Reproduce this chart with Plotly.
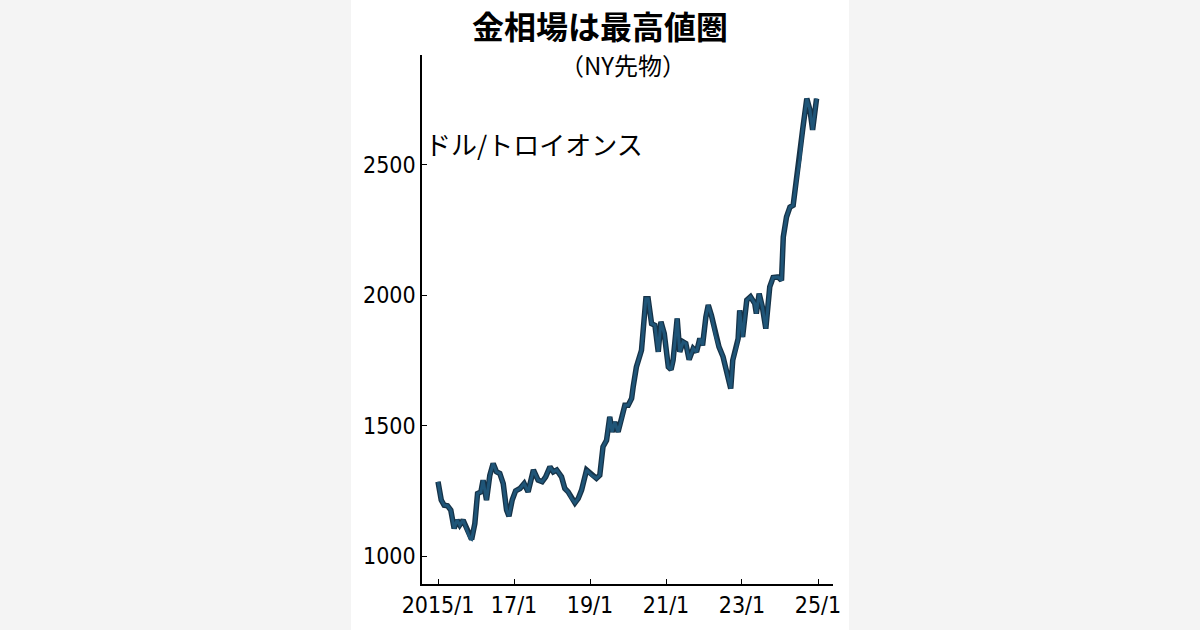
import plotly.graph_objects as go

# gold futures (NY), dollars per troy ounce
dates = [
    "2015-01-01", "2015-02-01", "2015-03-01", "2015-04-02", "2015-05-04",
    "2015-06-05", "2015-07-03", "2015-07-29", "2015-08-30", "2015-09-23",
    "2015-11-04", "2015-11-20", "2015-12-21", "2016-01-16", "2016-02-17",
    "2016-03-09", "2016-04-11", "2016-05-13", "2016-06-14", "2016-07-16",
    "2016-08-17", "2016-09-19", "2016-10-21", "2016-11-13", "2016-12-14",
    "2017-01-16", "2017-02-27", "2017-04-08", "2017-05-16", "2017-07-06",
    "2017-08-20", "2017-09-28", "2017-11-01", "2017-12-12", "2018-01-13",
    "2018-02-15", "2018-04-02", "2018-05-04", "2018-06-05", "2018-07-07",
    "2018-08-09", "2018-09-10", "2018-10-12", "2018-11-29", "2019-01-16",
    "2019-03-04", "2019-04-05", "2019-05-06", "2019-06-09", "2019-07-10",
    "2019-08-01", "2019-08-27", "2019-09-28", "2019-11-06", "2019-12-02",
    "2020-01-03", "2020-02-05", "2020-02-20", "2020-03-22", "2020-05-10",
    "2020-06-21", "2020-07-13", "2020-08-15", "2020-09-16", "2020-10-18",
    "2020-11-13", "2020-12-15", "2021-01-23", "2021-02-18", "2021-03-10",
    "2021-04-18", "2021-05-13", "2021-06-14", "2021-07-10", "2021-08-11",
    "2021-09-19", "2021-10-21", "2021-11-22", "2021-12-18", "2022-01-19",
    "2022-02-11", "2022-03-13", "2022-04-24", "2022-05-25", "2022-07-03",
    "2022-08-11", "2022-09-15", "2022-10-04", "2022-11-10", "2022-11-25",
    "2022-12-10", "2023-01-07", "2023-02-16", "2023-03-24", "2023-05-04",
    "2023-05-19", "2023-06-15", "2023-07-16", "2023-08-18", "2023-09-25",
    "2023-10-27", "2023-12-15", "2024-01-16", "2024-02-02", "2024-03-04",
    "2024-04-06", "2024-05-07", "2024-06-09", "2024-07-10", "2024-08-06",
    "2024-09-15", "2024-10-16", "2024-11-10", "2024-12-18",
]
prices = [
    1285, 1215, 1195, 1193, 1176,
    1106, 1138, 1119, 1138, 1115,
    1068, 1064, 1125, 1240, 1246,
    1291, 1215, 1310, 1355, 1323,
    1317, 1278, 1176, 1153, 1215,
    1250, 1259, 1278, 1246, 1330,
    1291, 1285, 1304, 1342, 1323,
    1330, 1304, 1259, 1246, 1221,
    1204, 1221, 1253, 1330, 1310,
    1298, 1310, 1419, 1444, 1534,
    1476, 1514, 1476, 1534, 1578,
    1578, 1604, 1649, 1725, 1789,
    1987, 1987, 1891, 1885, 1783,
    1898, 1853, 1725, 1715, 1751,
    1911, 1783, 1821, 1815, 1753,
    1796, 1783, 1834, 1808, 1917,
    1962, 1923, 1840, 1802, 1764,
    1700, 1642, 1750, 1802, 1834,
    1942, 1840, 1981, 1994, 1968,
    1930, 2006, 1955, 1872, 2032,
    2068, 2070, 2057, 2223, 2300,
    2338, 2345, 2441, 2519, 2634,
    2754, 2709, 2634, 2754,
]

x_tickvals = ["2015-01-01", "2017-01-01", "2019-01-01", "2021-01-01", "2023-01-01", "2025-01-01"]
x_ticktext = ["2015/1", "17/1", "19/1", "21/1", "23/1", "25/1"]
y_tickvals = [1000, 1500, 2000, 2500]

jp = "Noto Sans CJK JP"
narrow = "DejaVu Sans Condensed, Liberation Sans Narrow, sans-serif"

fig = go.Figure()
# dark outline under a blue core, like the original stroke
fig.add_trace(go.Scatter(x=dates, y=prices, mode="lines",
                         line=dict(color="#163247", width=5.5), hoverinfo="skip"))
fig.add_trace(go.Scatter(x=dates, y=prices, mode="lines",
                         line=dict(color="#1f5578", width=3)))

fig.update_layout(
    width=1200, height=630,
    margin=dict(l=422, r=367, t=55, b=46),
    paper_bgcolor="#f4f4f4",
    plot_bgcolor="white",
    showlegend=False,
    shapes=[dict(type="rect", xref="paper", yref="paper", layer="below",
                 x0=-71 / 411, x1=427 / 411, y0=-1, y1=2,
                 fillcolor="white", line=dict(width=0))],
    annotations=[
        dict(text="<b>金相場は最高値圏</b>", xref="paper", yref="paper",
             x=178 / 411, y=1 + 30 / 529, xanchor="center", yanchor="middle",
             showarrow=False, font=dict(family=jp, size=32, color="black")),
        dict(text="（NY先物）", xref="paper", yref="paper",
             x=201 / 411, y=1 - 9 / 529, xanchor="center", yanchor="middle",
             showarrow=False, font=dict(family=jp, size=24, color="black")),
        dict(text="ドル/トロイオンス", xref="paper", yref="paper",
             x=1 / 411, y=1 - 88 / 529, xanchor="left", yanchor="middle",
             showarrow=False, font=dict(family=jp, size=26, color="black")),
    ],
)

fig.update_xaxes(
    type="date", range=["2014-07-31", "2025-05-25"],
    tickvals=x_tickvals, ticktext=x_ticktext,
    ticks="inside", ticklen=5, tickcolor="black", tickwidth=1.2,
    showline=True, linecolor="black", linewidth=1.5,
    showgrid=False, zeroline=False,
    tickfont=dict(family=narrow, size=23, color="black"),
)
fig.update_yaxes(
    range=[893, 2921], tickvals=y_tickvals,
    ticks="inside", ticklen=5, tickcolor="black", tickwidth=1.2,
    showline=True, linecolor="black", linewidth=1.5,
    showgrid=False, zeroline=False,
    tickfont=dict(family=narrow, size=23, color="black"),
)

# drop the page's default body margin so the figure sits at the corner
fig.write_html("out.html", config={"displayModeBar": False},
               post_script="document.body.style.margin='0';")
